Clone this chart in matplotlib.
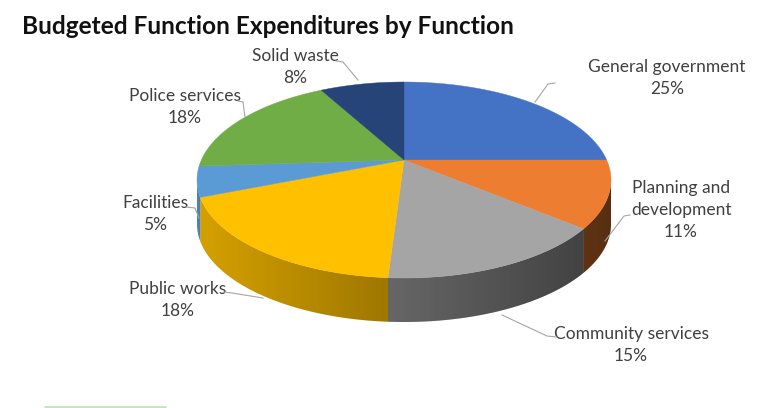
import numpy as np
import matplotlib
matplotlib.use('Agg')
import matplotlib.pyplot as plt
from matplotlib.patches import Polygon

## Data
functions = ['General government', 'Planning and\ndevelopment', 'Community services',
             'Public works', 'Facilities', 'Police services', 'Solid waste']
shares = [25, 11, 15, 18, 5, 18, 8]
colors = ['#4472C4', '#ED7D31', '#A5A5A5', '#FFC000', '#5B9BD5', '#70AD47', '#264478']

# label centre (pixels from top-left) and leader line for each slice
label_xy = [(667, 78), (681, 210), (631, 345), (178, 300), (155, 214), (185, 107), (295, 67)]
leaders = [[(555, 83), (548, 84), (535, 102)],
           [(630, 215), (624, 216), (605, 241)],
           [(557, 337), (547, 336), (502, 315)],
           [(224, 292), (232, 293), (263, 298)],
           [(186, 207), (195, 208), (199, 218)],
           [(238, 101), (243, 102), (245, 117)],
           [(336, 61), (343, 62), (358, 80)]]

W, H = 768, 408
fig = plt.figure(figsize=(W / 100, H / 100), dpi=100)
ax = fig.add_axes([0, 0, 1, 1])

font = ['Lato', 'DejaVu Sans']

# pie geometry in pixels (ellipse of the top face, thickness, perspective shift)
cx, cy, rx, ry, depth = 404, H - 180, 207, 98, 44
beta = 0.204

def tilt(theta_deg):
    # unit circle point -> point on the top ellipse, seen in perspective
    t = np.radians(theta_deg)
    x, y = np.cos(t), np.sin(t)
    w = 1 + beta * y
    X = x * np.sqrt(1 - beta ** 2) / w
    Y = (y + beta) / w
    return X, Y

def shade(c, f):
    r, g, b = matplotlib.colors.to_rgb(c)
    return (r * f, g * f, b * f)

# let pie lay out the slice angles, then redraw them tilted
wedges, _ = ax.pie(shares, startangle=90, counterclock=False, colors=colors)
angles = [(w.theta1, w.theta2) for w in wedges]
for w in wedges:
    w.remove()

apex = (cx, cy + beta * ry)

# side walls (only the front part of the rim is visible)
for (t1, t2), c in zip(angles, colors):
    th = np.linspace(t1, t2, 400)
    X, Y = tilt(th)
    keep = Y <= 0
    if keep.sum() < 2:
        continue
    px = cx + rx * X[keep]
    py = cy + ry * Y[keep]
    pts = np.vstack([np.column_stack([px, py]),
                     np.column_stack([px[::-1], py[::-1] - depth])])
    ax.add_patch(Polygon(pts, closed=True, facecolor=shade(c, 0.88), edgecolor='none', zorder=1))

# shading over the wall (light on the left, dark on the right)
t = np.linspace(np.pi, 2 * np.pi, 200)
top_edge = np.column_stack([cx + rx * np.cos(t), cy + ry * np.sin(t)])
bot_edge = np.column_stack([cx + rx * np.cos(t[::-1]), cy - depth + ry * np.sin(t[::-1])])
band = Polygon(np.vstack([top_edge, bot_edge]), closed=True, facecolor='none',
               edgecolor='none', transform=ax.transData)
ax.add_patch(band)
grad = np.zeros((1, 256, 4))
grad[..., 3] = np.linspace(0.05, 0.58, 256)
img = ax.imshow(grad, extent=(cx - rx, cx + rx, cy - ry - depth, cy), aspect='auto',
                interpolation='bilinear', zorder=1.5)
img.set_clip_path(band)

# top face
for (t1, t2), c in zip(angles, colors):
    th = np.linspace(t1, t2, 300)
    X, Y = tilt(th)
    pts = np.vstack([[apex], np.column_stack([cx + rx * X, cy + ry * Y])])
    ax.add_patch(Polygon(pts, closed=True, facecolor=c, edgecolor=c, lw=0.3, zorder=2))

# labels and leader lines
for name, pct, (lx, ly), pts in zip(functions, shares, label_xy, leaders):
    ax.text(lx, H - ly, f'{name}\n{pct}%', ha='center', va='center', fontsize=12.5,
            family=font, color='#404040', linespacing=1.45, zorder=3)
    xs = [p[0] for p in pts]
    ys = [H - p[1] for p in pts]
    ax.plot(xs, ys, color='#a6a6a6', lw=0.8, zorder=3)

ax.text(22, H - 34, 'Budgeted Function Expenditures by Function', ha='left', va='baseline',
        fontsize=17.6, fontweight='bold', family=font, color='#111111')

# faint green rule at the bottom of the slide
ax.plot([45, 165], [1.5, 1.5], color='#c5e3bd', lw=2, solid_capstyle='round')

ax.set_xlim(0, W)
ax.set_ylim(0, H)
ax.set_aspect('auto')
ax.axis('off')

fig.savefig('out.png', dpi=100)
